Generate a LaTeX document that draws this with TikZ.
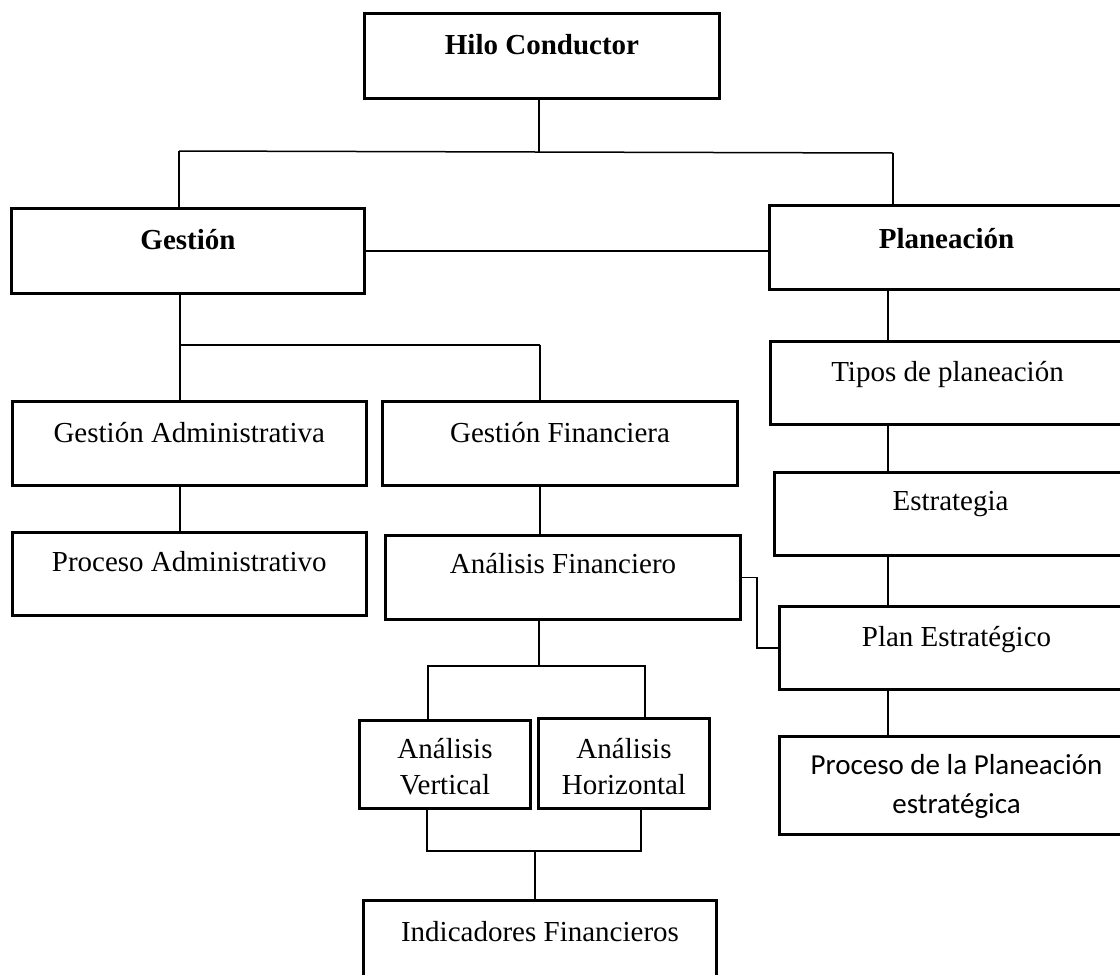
\documentclass[tikz,border=0pt]{standalone}
\usepackage{fontspec}
\setmainfont{Liberation Serif}
\newfontfamily\calibri{Carlito}

\begin{document}
\begin{tikzpicture}[
  x = 0.5pt, y = -0.5pt,
  box/.style  = {rectangle, draw, line width=1.5pt, anchor=north west,
                 inner sep=0pt, font=\fontsize{14.5}{18}\selectfont},
  head/.style = {box, font=\fontsize{14.5}{18}\selectfont\bfseries},
  link/.style = {line width=0.75pt}
]
\useasboundingbox (0,0) rectangle (1120,975);
\clip (0,0) rectangle (1120,975);

% ───────── top ─────────
\node[head, minimum width=177.5pt, text height=20.5pt, text depth=22pt] (hilo) at (363,12) {Hilo Conductor};

% ───────── 2nd row ─────────
\node[head, minimum width=176.5pt, text height=20.5pt, text depth=22pt] (gestion)    at (10,207)  {Gestión};
\node[head, minimum width=177pt,   text height=21.5pt, text depth=20.5pt] (planeacion) at (768,204) {Planeación};

% ───────── gestión branch ─────────
\node[box, minimum width=177.25pt, text height=20.5pt, text depth=21.5pt] (gadmin) at (10.5,400) {Gestión Administrativa};
\node[box, minimum width=177.5pt,  text height=20.5pt, text depth=21.5pt] (gfin)   at (381,400)  {Gestión Financiera};
\node[box, minimum width=177.25pt, text height=19.5pt, text depth=22pt]   (padmin) at (10.5,531) {Proceso Administrativo};
\node[box, minimum width=177.5pt,  text height=19pt,   text depth=23pt]   (afin)   at (384,534)  {Análisis Financiero};

\node[box, minimum width=85.5pt, text height=19pt, text depth=25pt] (avert) at (358,719)
  {\begin{tabular}[t]{@{}c@{}}Análisis\\Vertical\end{tabular}};
\node[box, minimum width=85.5pt, text height=20pt, text depth=25pt] (ahor)  at (537,717)
  {\begin{tabular}[t]{@{}c@{}}Análisis\\Horizontal\end{tabular}};
\node[box, minimum width=176.5pt, text height=20.5pt, text depth=25pt] (indic) at (362,899) {Indicadores Financieros};

% ───────── planeación branch ─────────
\node[box, minimum width=177pt, text height=20pt, text depth=21.5pt] (tipos)  at (769,340) {Tipos de planeación};
\node[box, minimum width=176pt, text height=19pt, text depth=22.5pt] (estrat) at (773,471) {Estrategia};
\node[box, minimum width=177pt, text height=20pt, text depth=21.5pt] (plan)   at (778,605) {Plan Estratégico};
\node[box, minimum width=177pt, text height=19pt, text depth=30pt,
      font=\fontsize{14.5}{19.5}\calibri] (pplan) at (778,735)
  {\begin{tabular}[t]{@{}c@{}}Proceso de la Planeación\\estratégica\end{tabular}};

% ───────── junctions ─────────
\coordinate (jtop)  at (539,152);
\coordinate (jtopL) at (179,151);
\coordinate (jtopR) at (893,153);
\coordinate (jgesL) at (180,345);
\coordinate (jgesR) at (540,345);
\coordinate (axisP) at (888,300);
\coordinate (elbow) at (757,600);
\coordinate (janL)  at (428,666);
\coordinate (janM)  at (539,666);
\coordinate (janR)  at (645,666);
\coordinate (jbL)   at (427,851);
\coordinate (jbM)   at (535,851);
\coordinate (jbR)   at (641,851);

% ───────── lines ──────────
\draw[link] (hilo.south -| jtop) -- (jtop);
\draw[link] (jtopL) -- (jtopR);
\draw[link] (jtopL) -- (jtopL |- gestion.north);
\draw[link] (jtopR) -- (jtopR |- planeacion.north);
\draw[link] (gestion.east) -- (gestion.east -| planeacion.west);

\draw[link] (gestion.south -| jgesL) -- (jgesL) -- (jgesR);
\draw[link] (jgesL) -- (jgesL |- gadmin.north);
\draw[link] (jgesR) -- (jgesR |- gfin.north);
\draw[link] (jgesL |- gadmin.south) -- (jgesL |- padmin.north);
\draw[link] (jgesR |- gfin.south) -- (jgesR |- afin.north);

\draw[link] (afin.south -| janM) -- (janM);
\draw[link] (janL |- avert.north) -- (janL) -- (janR) -- (janR |- ahor.north);
\draw[link] (jbL |- avert.south) -- (jbL) -- (jbR) -- (jbR |- ahor.south);
\draw[link] (jbM) -- (jbM |- indic.north);

\draw[link] (axisP |- planeacion.south) -- (axisP |- tipos.north);
\draw[link] (axisP |- tipos.south) -- (axisP |- estrat.north);
\draw[link] (axisP |- estrat.south) -- (axisP |- plan.north);
\draw[link] (axisP |- plan.south) -- (axisP |- pplan.north);

\draw[link] (afin.east) -- (afin.east -| elbow) |- (plan.west);
\end{tikzpicture}
\end{document}
